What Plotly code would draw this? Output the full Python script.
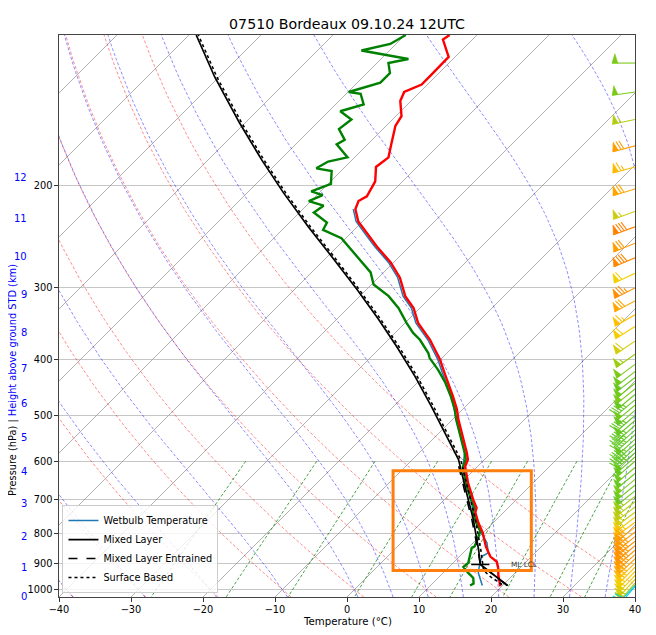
import numpy as np
import plotly.graph_objects as go

# ---- sounding (pressure hPa, temperature degC) ----
temp_pres = [987, 980, 942, 916, 895, 877, 843, 797, 766, 736, 722, 699, 653, 613, 596, 580, 544, 508, 488, 464,
             422, 400, 370, 346, 326, 311, 289, 272, 255, 242, 231, 220, 213, 209, 197, 186, 179, 172, 158, 152,
             143, 138, 134, 130, 126, 120, 112, 110]
temp_vals = [19.8, 19.5, 17.9, 16.9, 15.9, 14.3, 12.3, 9.9, 7.9, 6.1, 5.6, 4.0, 0.9, -1.7, -2.3, -3.4, -6.2, -9.2, -10.8, -13.1,
             -17.6, -20.1, -24.2, -28.2, -30.9, -33.7, -37.0, -40.4, -44.6, -47.8, -50.6, -52.7, -53.4, -52.9, -53.8, -55.7, -55.3, -56.4, -58.7, -59.2,
             -61.5, -62.2, -60.8, -60.8, -60.8, -60.9, -64.1, -63.8]

dewp_pres = [984, 976, 955, 936, 914, 899, 876, 847, 842, 814, 793, 766, 736, 722, 699, 653, 613, 596, 580, 544,
             508, 488, 464, 439, 417, 398, 390, 370, 360, 346, 326, 311, 297, 283, 269, 257, 247, 239, 232, 223,
             217, 213, 208, 205, 199, 189, 187, 182, 179, 170, 167, 160, 154, 149, 145, 139, 138, 133, 128, 123,
             121, 117, 114, 110]
dewp_vals = [15.5, 15.7, 14.9, 13.5, 12.0, 12.1, 11.4, 10.5, 10.7, 10.0, 9.4, 7.6, 5.8, 5.3, 3.7, 0.6, -2.0, -2.6, -3.7, -6.5,
             -9.5, -11.1, -13.4, -16.1, -18.9, -21.7, -22.6, -25.6, -27.5, -29.8, -33.0, -36.0, -39.7, -41.8, -45.1, -48.1, -50.6, -54.3, -54.8, -58.0,
             -57.6, -60.3, -59.2, -61.3, -59.6, -61.3, -63.8, -63.1, -61.0, -64.3, -63.8, -66.1, -65.7, -68.4, -66.1, -68.0, -69.9, -66.8, -66.8, -68.4,
             -66.2, -73.9, -70.8, -69.9]

wetb_pres = [984, 949, 936, 899, 876, 864, 830, 793, 766, 736, 699, 653, 613, 580, 544, 508, 464, 439, 422, 400,
             370, 346, 326, 311, 289, 272, 255, 242, 231, 220]
wetb_vals = [17.2, 15.6, 14.9, 13.7, 13.1, 13.5, 11.9, 9.4, 7.6, 5.8, 3.7, 0.6, -2.0, -3.7, -6.5, -9.5, -13.3, -16.0, -17.9, -20.4,
             -24.5, -28.5, -31.2, -34.0, -37.3, -40.7, -44.9, -48.1, -50.9, -53.0]

# parcel paths
ml_pres = [984, 905, 853, 757, 672, 596, 536, 482, 428, 380, 341, 303, 264, 236, 206, 181, 156, 130, 110]
ml_vals = [20.7, 14.0, 11.7, 6.8, 1.6, -3.6, -9.2, -14.8, -21.2, -27.9, -34.2, -41.3, -49.8, -56.8, -65.0, -72.5, -80.8, -90.6, -99.0]
mle_pres = [984, 905, 853, 757, 672, 596]
mle_vals = [20.7, 14.0, 11.6, 6.6, 1.4, -3.8]
sb_pres = [980, 950, 927, 853, 757, 672, 596, 536, 482, 428, 380, 341, 303, 264, 236, 206, 181, 156, 130, 110]
sb_vals = [19.8, 17.1, 15.3, 12.0, 7.1, 1.9, -3.3, -8.9, -14.5, -20.9, -27.6, -33.9, -41.0, -49.5, -56.5, -64.7, -72.2, -80.5, -90.3, -98.7]
lcl_pres, lcl_temp = 905, 14.0

# wind (kt, direction from)
wind_pres = [123, 138, 154, 171, 186, 203, 222, 236, 252, 267, 284, 301, 317, 335, 351, 372, 392, 408,
             420, 430, 440, 450, 460, 470, 480, 490, 500, 510, 520, 530, 540, 550, 560, 570, 580, 590, 600,
             615, 630, 645, 660, 675, 690, 705, 720, 735, 750, 765, 780, 795, 810, 825, 840, 855, 870, 885, 900,
             915, 930, 945, 960, 975, 982, 987]
wind_spd = [50, 50, 55, 72, 67, 70, 57, 80, 72, 78, 61, 76, 70, 66, 62, 58, 53, 50,
            49, 48, 49, 50, 48, 47, 49, 48, 47, 48, 47, 46, 47, 48, 47, 46, 47, 48, 48,
            49, 48, 50, 49, 48, 53, 55, 56, 57, 60, 66, 70, 72, 73, 74, 75, 74, 73, 71, 68,
            64, 62, 60, 58, 55, 28, 22]
wind_dir = [270, 262, 258, 255, 255, 253, 250, 250, 248, 247, 245, 243, 242, 240, 238, 236, 235, 233,
            232, 232, 231, 231, 230, 230, 230, 229, 229, 229, 228, 228, 228, 228, 228, 228, 229, 229, 229,
            230, 230, 230, 231, 231, 232, 232, 233, 233, 233, 233, 232, 232, 231, 231, 230, 229, 228, 227, 226,
            225, 224, 223, 222, 221, 222, 220]

height_km = list(range(13))
height_pres = [1028, 915, 809, 711, 626, 547, 477, 415, 360, 309, 266, 228, 194]

p_ticks = [200, 300, 400, 500, 600, 700, 800, 900, 1000]
t_ticks = [-40, -30, -20, -10, 0, 10, 20, 30, 40]

box_pres = (623, 927)
box_x = (6.4, 25.6)

# ---- geometry (page has an 8px body margin, so the figure is 8px smaller) ----
PAGE_OFF = 8
FIG_W, FIG_H = 656 - PAGE_OFF, 635 - PAGE_OFF
MARGIN = dict(l=59 - PAGE_OFF, r=21, t=35 - PAGE_OFF, b=38)
PLOT_W = FIG_W - MARGIN['l'] - MARGIN['r']
PLOT_H = FIG_H - MARGIN['t'] - MARGIN['b']
PLOT_LEFT, PLOT_BOTTOM = 59, 35 + PLOT_H   # in page pixels
P_BOT, P_TOP = 1030.0, 110.0
X_MIN, X_MAX = -40, 40

PX_X = PLOT_W / (X_MAX - X_MIN)
PX_LOGP = PLOT_H / np.log10(P_BOT / P_TOP)
SKEW = PLOT_H / np.log(P_BOT / P_TOP) / PX_X   # 45 degree isotherms


def skew_x(t, p):
    return np.asarray(t, float) + SKEW * np.log(P_BOT / np.asarray(p, float))


def log_p(p):
    return np.log10(np.asarray(p, float))


def joined(lines):
    xs, ys = [], []
    for x, y in lines:
        xs += list(x) + [None]
        ys += list(y) + [None]
    return xs, ys


# thermodynamic constants (as in MetPy)
RD, CP, LV, EPS = 287.04749, 1004.67, 2.50084e6, 0.6219569


def sat_mix(p, t):
    es = 6.112 * np.exp(17.67 * (t - 273.15) / (t - 29.65))
    return EPS * es / (p - es)


def dtdp(p, t):
    rs = sat_mix(p, t)
    return (RD * t + LV * rs) / (CP + LV * LV * rs * EPS / (RD * t * t)) / p


def moist_path(t0, p_end, n):
    ps = np.linspace(1000.0, p_end, n)
    ts = [t0 + 273.15]
    for i in range(n - 1):
        p, h, t = ps[i], ps[i + 1] - ps[i], ts[-1]
        k1 = dtdp(p, t)
        k2 = dtdp(p + h / 2, t + h / 2 * k1)
        k3 = dtdp(p + h / 2, t + h / 2 * k2)
        k4 = dtdp(p + h, t + h * k3)
        ts.append(t + h / 6 * (k1 + 2 * k2 + 2 * k3 + k4))
    return ps, np.array(ts) - 273.15


p_full = np.geomspace(P_BOT, P_TOP, 80)
iso_lines = [(skew_x([t, t], [P_BOT, P_TOP]), log_p([P_BOT, P_TOP])) for t in range(-120, 50, 10)]
dry_lines = []
for t0 in range(-40, 41, 10):
    t = (t0 + 273.15) * (p_full / 1000.0) ** (RD / CP) - 273.15
    dry_lines.append((skew_x(t, p_full), log_p(p_full)))
moist_lines = []
for t0 in list(range(-40, 0, 10)) + list(range(0, 41, 5)):
    pu, tu = moist_path(t0, P_TOP, 160)
    pd, td = moist_path(t0, P_BOT, 6)
    pp = np.concatenate([pd[::-1], pu[1:]])
    tt = np.concatenate([td[::-1], tu[1:]])
    moist_lines.append((skew_x(tt, pp), log_p(pp)))
mix_lines = []
p_mix = np.linspace(600, P_BOT, 30)
for w in [0.0004, 0.001, 0.002, 0.004, 0.007, 0.01, 0.016, 0.024, 0.032]:
    e = p_mix * w / (EPS + w)
    lg = np.log(e / 6.112)
    td = 243.5 * lg / (17.67 - lg)
    mix_lines.append((skew_x(td, p_mix), log_p(p_mix)))

fig = go.Figure()


def add_family(lines, color, width, dash):
    xs, ys = joined(lines)
    fig.add_trace(go.Scatter(x=xs, y=ys, mode='lines', line=dict(color=color, width=width, dash=dash),
                             hoverinfo='skip', showlegend=False))


add_family(iso_lines, '#a8a8a8', 0.9, 'solid')
add_family(dry_lines, 'rgba(255,0,0,0.5)', 0.9, '3px,2px')
add_family(moist_lines, 'rgba(0,0,255,0.5)', 0.9, '3px,2px')
add_family(mix_lines, 'rgba(0,128,0,0.8)', 0.9, '3px,2px')


def profile(pres, vals, color, width, dash='solid', name=None, rank=None):
    fig.add_trace(go.Scatter(x=skew_x(vals, pres), y=log_p(pres), mode='lines', name=name,
                             line=dict(color=color, width=width, dash=dash),
                             showlegend=name is not None, legendrank=rank or 1000, hoverinfo='skip'))


profile(wetb_pres, wetb_vals, '#1f77b4', 1.5, name='Wetbulb Temperature', rank=1)
profile(dewp_pres, dewp_vals, '#008000', 2.4)
profile(temp_pres, temp_vals, '#ff0000', 2.4)
profile(mle_pres, mle_vals, 'black', 1.6, 'dash', name='Mixed Layer Entrained', rank=3)
profile(sb_pres, sb_vals, 'black', 1.6, 'dot', name='Surface Based', rank=4)
profile(ml_pres, ml_vals, 'black', 1.7, name='Mixed Layer', rank=2)

# ML LCL marker
fig.add_trace(go.Scatter(x=skew_x([lcl_temp], [lcl_pres]), y=log_p([lcl_pres]), mode='markers',
                         marker=dict(symbol='line-ew', size=13, line=dict(color='black', width=1.5)),
                         showlegend=False, hoverinfo='skip'))

# ---- wind barbs at the right edge ----
spd_anchor = [0, 20, 30, 40, 48, 53, 57, 61, 66, 71, 80, 100]
rgb_anchor = np.array([(31, 60, 255), (0, 200, 240), (32, 208, 176), (80, 200, 80), (102, 200, 30),
                       (156, 204, 16), (204, 204, 16), (245, 208, 0), (255, 191, 0), (255, 159, 0),
                       (255, 128, 0), (255, 64, 0)])


def speed_color(s):
    r, g, b = (np.interp(s, spd_anchor, rgb_anchor[:, k]) for k in range(3))
    return f'rgb({r:.0f},{g:.0f},{b:.0f})'


BARB_LEN = 23.0


def barb_parts(spd):
    mag = 5 * round(spd / 5)
    nflag, rest = divmod(mag, 50)
    nbarb, rest = divmod(rest, 10)
    h, w, gap = 0.4 * BARB_LEN, 0.25 * BARB_LEN, 0.125 * BARB_LEN
    segs, flags = [[(0, 0), (0, BARB_LEN)]], []
    off = BARB_LEN
    for i in range(nflag):
        if off != BARB_LEN:
            off += gap / 2
        flags.append([(0, off), (h, off - w / 2), (0, off - w), (0, off)])
        off -= w + gap
    for i in range(nbarb):
        segs.append([(0, off), (h, off + w / 2)])
        off -= gap
    if rest >= 5:
        if off == BARB_LEN:
            off -= 1.5 * gap
        segs.append([(0, off), (h / 2, off + w / 4)])
    return segs, flags


for p, s, d in zip(wind_pres, wind_spd, wind_dir):
    rad = np.radians(d)
    sx, sy = np.sin(rad), np.cos(rad)      # shaft toward where wind comes from
    bx, by = sy, -sx                       # barbs on clockwise side
    x0, y0 = X_MAX, float(log_p(p))
    segs, flags = barb_parts(s)
    col = speed_color(s)

    def conv(shapes):
        xs, ys = [], []
        for shp in shapes:
            for a, c in shp:
                dx, dy = a * bx + c * sx, a * by + c * sy
                xs.append(x0 + dx / PX_X)
                ys.append(y0 - dy / PX_LOGP)
            xs.append(None)
            ys.append(None)
        return xs, ys

    lx, ly = conv(segs)
    fig.add_trace(go.Scatter(x=lx, y=ly, mode='lines', line=dict(color=col, width=1.1),
                             showlegend=False, hoverinfo='skip'))
    if flags:
        fx, fy = conv(flags)
        fig.add_trace(go.Scatter(x=fx, y=fy, mode='lines', fill='toself', fillcolor=col,
                                 line=dict(color=col, width=0.6), showlegend=False, hoverinfo='skip'))

FONT = 'DejaVu Sans'
annotations = []
for h, p in zip(height_km, height_pres):
    annotations.append(dict(x=(29 - PLOT_LEFT) / PLOT_W, xref='paper', y=float(log_p(p)), yref='y', text=str(h),
                            showarrow=False, xanchor='right', yanchor='middle',
                            font=dict(family=FONT, size=10, color='blue')))
annotations.append(dict(x=(13 - PLOT_LEFT) / PLOT_W, xref='paper', y=(PLOT_BOTTOM - 380) / PLOT_H,
                        yref='paper', textangle=-90, showarrow=False, xanchor='center', yanchor='middle',
                        text='Pressure (hPa) | <span style="color:blue">Height above ground STD (km)</span>',
                        font=dict(family=FONT, size=9.8, color='black')))
annotations.append(dict(x=0.5, xref='paper', y=(PLOT_BOTTOM - 621) / PLOT_H, yref='paper', text='Temperature (°C)',
                        showarrow=False, xanchor='center', yanchor='middle',
                        font=dict(family=FONT, size=10.2, color='black')))
annotations.append(dict(x=float(skew_x(lcl_temp, lcl_pres)), y=float(log_p(lcl_pres)), xref='x', yref='y',
                        text='ML LCL', showarrow=False, xanchor='left', yanchor='middle', xshift=29,
                        font=dict(family=FONT, size=7.3, color='#333333')))

fig.update_layout(
    width=FIG_W, height=FIG_H, margin=MARGIN,
    paper_bgcolor='white', plot_bgcolor='white',
    font=dict(family=FONT, size=9.8, color='black'),
    title=dict(text='07510 Bordeaux 09.10.24 12UTC', x=(MARGIN['l'] + PLOT_W / 2) / FIG_W, xanchor='center',
               y=1 - (24 - PAGE_OFF) / FIG_H, yanchor='middle', font=dict(family=FONT, size=14.2, color='black')),
    xaxis=dict(range=[X_MIN, X_MAX], tickvals=t_ticks, ticktext=[str(v).replace('-', '\u2212') for v in t_ticks],
               showgrid=False, zeroline=False, ticks='outside', ticklen=3.5, tickcolor='#333333',
               showline=True, linecolor='#444444', linewidth=1.2, mirror=True, fixedrange=True),
    yaxis=dict(range=[float(log_p(P_BOT)), float(log_p(P_TOP))], tickvals=list(log_p(p_ticks)),
               ticktext=[str(v) for v in p_ticks], showgrid=True, gridcolor='#c6c6c6', gridwidth=1.4,
               zeroline=False, ticks='outside', ticklen=3.5, tickcolor='#333333',
               showline=True, linecolor='#444444', linewidth=1.2, mirror=True, fixedrange=True),
    legend=dict(x=0.006, y=0.007, xanchor='left', yanchor='bottom', bgcolor='rgba(255,255,255,0.8)',
                bordercolor='#cccccc', borderwidth=1, font=dict(family=FONT, size=9.7), tracegroupgap=0,
                itemwidth=30),
    annotations=annotations,
    shapes=[dict(type='rect', xref='x', yref='y', x0=box_x[0], x1=box_x[1],
                 y0=float(log_p(box_pres[1])), y1=float(log_p(box_pres[0])),
                 line=dict(color='#ff7f0e', width=3))],
    showlegend=True,
)

fig.write_html("out.html")
